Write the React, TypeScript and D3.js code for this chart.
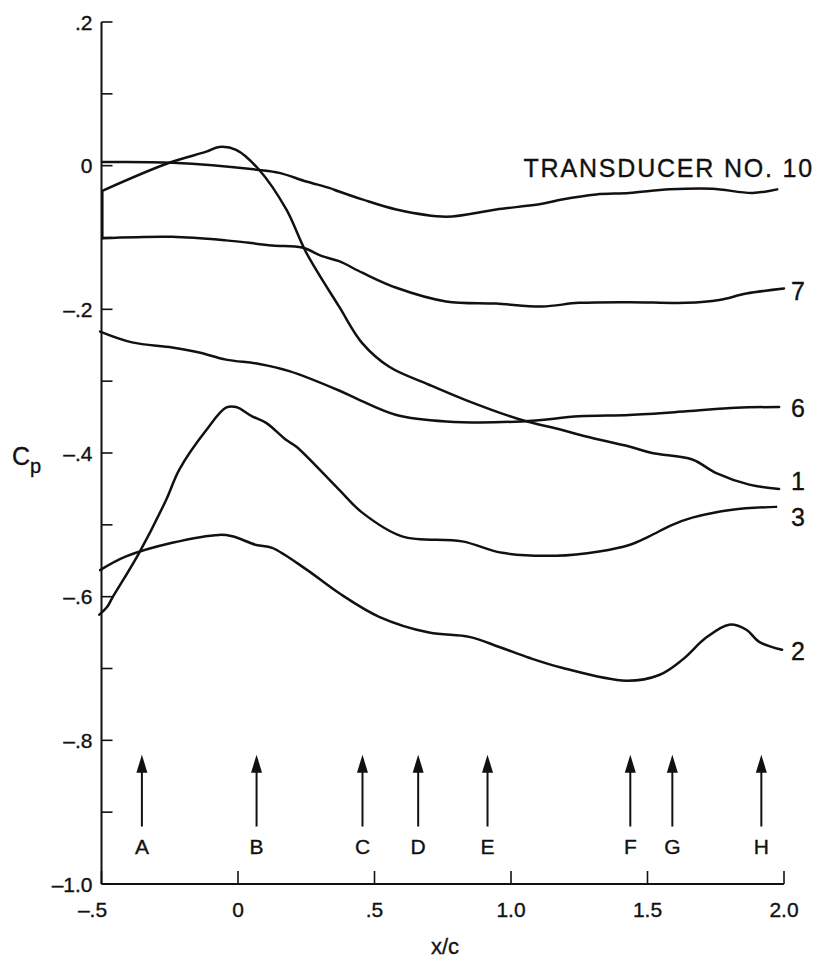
import React from "react";
import * as d3 from "d3";

// x/c positions and Cp values
const t10X = [-0.497, -0.241, 0.078, 0.151, 0.25, 0.334, 0.37, 0.455, 0.58, 0.762, 0.946, 1.114, 1.187, 1.312, 1.433, 1.58, 1.737, 1.884, 1.975];
const t10Y = [0.005, 0.004, -0.006, -0.01, -0.022, -0.031, -0.036, -0.047, -0.061, -0.071, -0.061, -0.053, -0.047, -0.04, -0.038, -0.033, -0.032, -0.038, -0.033];

const t7X = [-0.497, -0.241, -0.044, 0.125, 0.235, 0.308, 0.37, 0.455, 0.58, 0.762, 0.946, 1.114, 1.249, 1.433, 1.642, 1.763, 1.862, 2.0];
const t7Y = [-0.101, -0.099, -0.104, -0.111, -0.114, -0.126, -0.133, -0.149, -0.17, -0.189, -0.192, -0.196, -0.191, -0.19, -0.191, -0.187, -0.178, -0.171];

const t6X = [-0.505, -0.388, -0.241, -0.142, -0.044, 0.078, 0.188, 0.37, 0.444, 0.58, 0.762, 1.041, 1.249, 1.433, 1.642, 1.825, 1.982];
const t6Y = [-0.231, -0.246, -0.253, -0.26, -0.27, -0.276, -0.286, -0.313, -0.326, -0.347, -0.356, -0.356, -0.349, -0.347, -0.342, -0.337, -0.336];

const t1X = [-0.497, -0.497, -0.252, -0.116, -0.069, -0.007, 0.078, 0.177, 0.25, 0.37, 0.455, 0.554, 0.7, 0.832, 1.03, 1.187, 1.275, 1.433, 1.517, 1.664, 1.752, 1.873, 1.982];
const t1Y = [-0.101, -0.035, 0.004, 0.0195, 0.026, 0.022, -0.006, -0.061, -0.121, -0.196, -0.247, -0.28, -0.305, -0.326, -0.353, -0.368, -0.377, -0.391, -0.4, -0.409, -0.428, -0.444, -0.45];

const t3X = [-0.508, -0.479, -0.461, -0.362, -0.263, -0.215, -0.116, -0.044, -0.007, 0.052, 0.103, 0.177, 0.213, 0.37, 0.455, 0.601, 0.821, 0.968, 1.165, 1.323, 1.433, 1.506, 1.591, 1.664, 1.81, 1.971];
const t3Y = [-0.625, -0.614, -0.602, -0.539, -0.465, -0.423, -0.368, -0.337, -0.336, -0.349, -0.358, -0.382, -0.391, -0.451, -0.483, -0.516, -0.523, -0.539, -0.543, -0.537, -0.528, -0.516, -0.5, -0.49, -0.479, -0.475];

const t2X = [-0.505, -0.41, -0.241, -0.069, -0.021, 0.067, 0.125, 0.25, 0.37, 0.517, 0.7, 0.847, 0.957, 1.066, 1.187, 1.422, 1.543, 1.627, 1.715, 1.799, 1.862, 1.909, 1.993];
const t2Y = [-0.563, -0.544, -0.525, -0.514, -0.516, -0.528, -0.532, -0.562, -0.595, -0.628, -0.65, -0.656, -0.67, -0.685, -0.699, -0.717, -0.709, -0.688, -0.657, -0.639, -0.646, -0.663, -0.674];

const seriesNames = ["10", "7", "6", "1", "3", "2"];
const seriesX = [t10X, t7X, t6X, t1X, t3X, t2X];
const seriesY = [t10Y, t7Y, t6Y, t1Y, t3Y, t2Y];
// number of leading straight segments per series (curve 1 rises straight up the axis)
const seriesStraightStart = [0, 0, 0, 1, 0, 0];

const arrowLetters = ["A", "B", "C", "D", "E", "F", "G", "H"];
const arrowX = [-0.352, 0.068, 0.456, 0.66, 0.914, 1.437, 1.591, 1.917];
const arrowTop = -0.82;
const arrowBottom = -0.92;

const xTicks = [-0.5, 0, 0.5, 1.0, 1.5, 2.0];
const xTickLabels = ["–.5", "0", ".5", "1.0", "1.5", "2.0"];
const yMinorTicks = [-1.0, -0.9, -0.8, -0.7, -0.6, -0.5, -0.4, -0.3, -0.2, -0.1, 0, 0.1, 0.2];
const yTicks = [-1.0, -0.8, -0.6, -0.4, -0.2, 0, 0.2];
const yTickLabels = ["–1.0", "–.8", "–.6", "–.4", "–.2", "0", ".2"];

const titleLabel = { text: "TRANSDUCER NO. 10", x: 1.046, y: -0.0155 };
const numLabels = ["7", "6", "1", "3", "2"];
const numLabelY = [-0.187, -0.35, -0.451, -0.501, -0.688];

const FONT = "'Liberation Sans', Arial, Helvetica, sans-serif";
const INK = "#111";

export default function App() {
  const W = 819, H = 964;
  const x = d3.scaleLinear().domain([-0.5, 2.0]).range([101.5, 784]);
  const y = d3.scaleLinear().domain([-1.0, 0.2]).range([884, 22]);

  const line = d3
    .line<[number, number]>()
    .x((d) => x(d[0]))
    .y((d) => y(d[1]))
    .curve(d3.curveCatmullRom.alpha(0.5));

  const x0 = x(-0.5);
  const yb = y(-1.0);

  const pathFor = (si: number) => {
    const pts: [number, number][] = seriesX[si].map((xv, j) => [xv, seriesY[si][j]]);
    const k = seriesStraightStart[si];
    if (k === 0) return line(pts) || "";
    const head = pts.slice(0, k);
    const rest = pts.slice(k);
    const restD = (line(rest) || "").replace(/^M/, "L");
    const headD = head.map((p, i) => `${i === 0 ? "M" : "L"}${x(p[0])},${y(p[1])}`).join("");
    return headD + restD;
  };

  const txt = { fill: INK, stroke: INK, strokeWidth: 0.35 };

  return (
    <svg
      width={W}
      height={H}
      style={{ position: "absolute", left: 0, top: 0, background: "#fff" }}
      fontFamily={FONT}
    >
      <rect width={W} height={H} fill="#fff" />
      {/* axes */}
      <line x1={x0} x2={x0} y1={y(0.2)} y2={yb} stroke={INK} strokeWidth={2} />
      <line x1={x0} x2={x(2.0)} y1={yb} y2={yb} stroke={INK} strokeWidth={2} />
      {yMinorTicks.map((v, i) => (
        <line key={"yt" + i} x1={x0} x2={x0 + 11} y1={y(v)} y2={y(v)} stroke={INK} strokeWidth={1.6} />
      ))}
      {yTicks.map((v, i) => (
        <text key={"yl" + i} x={x0 - 9} y={y(v) + 7.5} fontSize={21} textAnchor="end" {...txt}>
          {yTickLabels[i]}
        </text>
      ))}
      {xTicks.map((v, i) => (
        <g key={"xt" + i}>
          <line x1={x(v)} x2={x(v)} y1={yb} y2={yb - 13} stroke={INK} strokeWidth={1.6} />
          <text x={x(v) - (i === 0 ? 9 : 0)} y={yb + 33} fontSize={21} textAnchor="middle" {...txt}>
            {xTickLabels[i]}
          </text>
        </g>
      ))}
      <text x={445} y={954} fontSize={22} textAnchor="middle" {...txt}>x/c</text>
      <text x={12} y={465} fontSize={25} {...txt}>
        C<tspan fontSize={20} dy={8}>p</tspan>
      </text>

      {/* curves */}
      {seriesX.map((_, si) => (
        <path key={"s" + si} d={pathFor(si)} fill="none" stroke={INK} strokeWidth={2.5} strokeLinejoin="round" strokeLinecap="round" />
      ))}

      {/* labels */}
      <text x={x(titleLabel.x)} y={y(titleLabel.y)} fontSize={25} letterSpacing={1.8} {...txt}>
        {titleLabel.text}
      </text>
      {numLabels.map((t, i) => (
        <text key={"nl" + i} x={791} y={y(numLabelY[i])} fontSize={25} {...txt}>
          {t}
        </text>
      ))}

      {/* arrows */}
      {arrowX.map((av, i) => {
        const ax = x(av);
        const yt = y(arrowTop);
        const ybt = y(arrowBottom);
        return (
          <g key={"ar" + i}>
            <line x1={ax} x2={ax} y1={ybt} y2={yt + 12} stroke={INK} strokeWidth={2} />
            <path d={`M${ax},${yt} L${ax - 5.5},${yt + 18} L${ax + 5.5},${yt + 18} Z`} fill={INK} />
            <text x={ax} y={ybt + 27} fontSize={21} textAnchor="middle" {...txt}>
              {arrowLetters[i]}
            </text>
          </g>
        );
      })}
    </svg>
  );
}
